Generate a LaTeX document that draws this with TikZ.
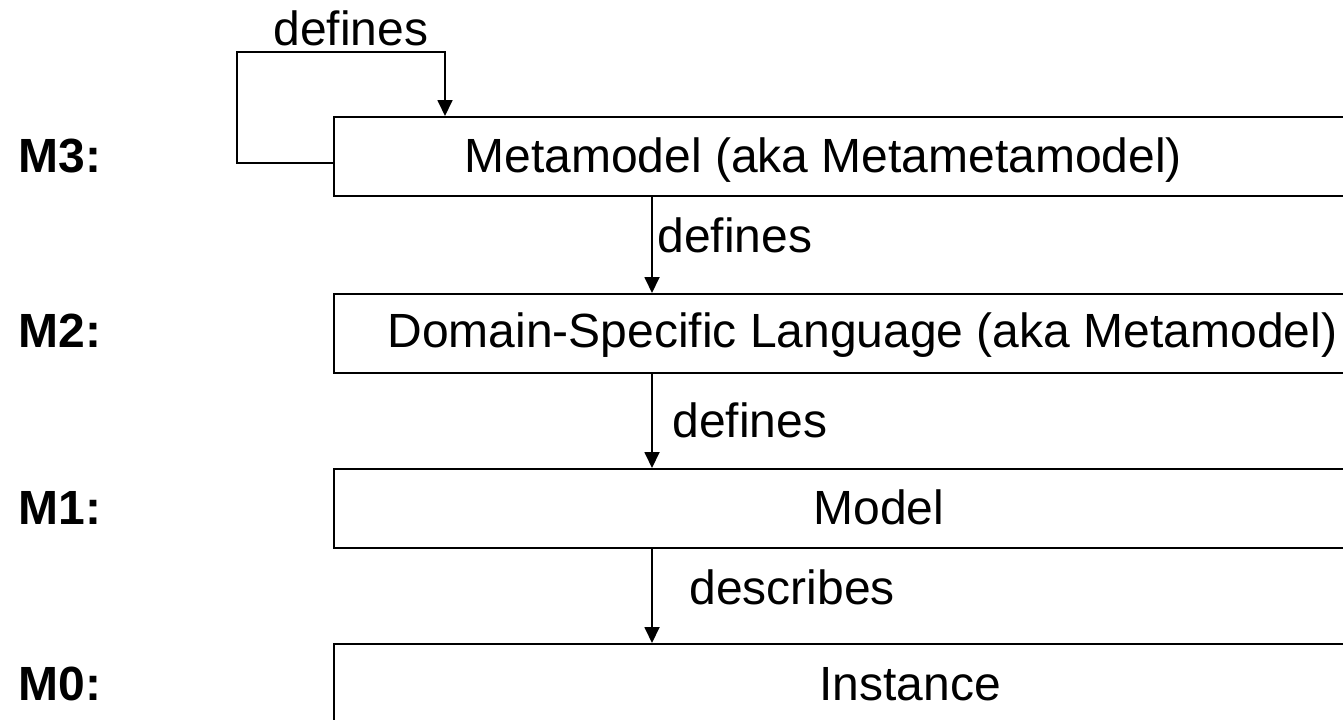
\documentclass[tikz,border=0pt]{standalone}
\usepackage{fontspec}
\setmainfont{Liberation Sans}
\usetikzlibrary{arrows.meta}
\begin{document}
\begin{tikzpicture}[x=0.5pt,y=-0.5pt,
  txt/.style={anchor=base west,inner sep=0pt,font=\fontsize{24}{28}\selectfont},
  lvl/.style={anchor=base west,inner sep=0pt,font=\fontsize{24}{28}\selectfont\bfseries},
  layer/.style={draw,line width=1pt,anchor=north west,minimum width=540pt,minimum height=39.5pt,inner sep=0pt},
  conn/.style={line width=0.9pt,-{Triangle[length=8pt,width=7.5pt]}}]
\useasboundingbox (0,0) rectangle (1343,719);
\clip (0,0) rectangle (1343,719);
% layer boxes
\node[layer] (b3) at (333,116) {};
\node[layer] (b2) at (333,293) {};
\node[layer] (b1) at (333,468) {};
\node[layer] (b0) at (333,643) {};
% box texts
\node[txt] (t3) at (464,172) {Metamodel (aka Metametamodel)};
\node[txt] (t2) at (387,347) {Domain-Specific Language (aka Metamodel)};
\node[txt] (t1) at (813,524) {Model};
\node[txt] (t0) at (819,700) {Instance};
% level labels
\node[lvl] (m3) at (18,172) {M3:};
\node[lvl] (m2) at (18,347) {M2:};
\node[lvl] (m1) at (18,524) {M1:};
\node[lvl] (m0) at (18,700) {M0:};
% connector labels
\node[txt] (l4) at (273,45) {defines};
\node[txt] (l3) at (657,252) {defines};
\node[txt] (l2) at (672,437) {defines};
\node[txt] (l1) at (689,604) {describes};
% connectors
\coordinate (s3) at (333,163);
\coordinate (e3) at (445,116);
\draw[conn] (s3) -- (237,163) -- (237,52) -- (445,52) -- (e3);
\draw[conn] (b3.south west -| 652,0) -- (b2.north west -| 652,0);
\draw[conn] (b2.south west -| 652,0) -- (b1.north west -| 652,0);
\draw[conn] (b1.south west -| 652,0) -- (b0.north west -| 652,0);
\end{tikzpicture}
\end{document}
